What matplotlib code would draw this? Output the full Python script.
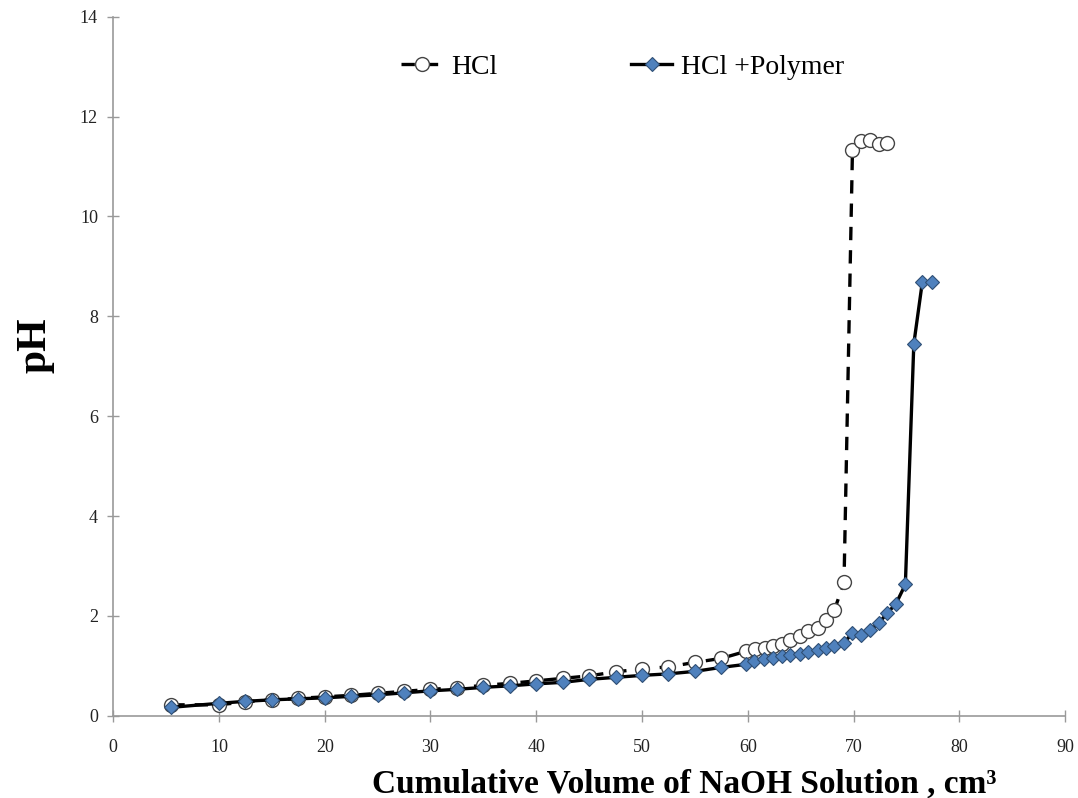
import matplotlib
matplotlib.use('Agg')
import matplotlib.pyplot as plt

# HCl alone (open circles, dashed line)
hcl_vol = [5.5, 10, 12.5, 15, 17.5, 20, 22.5, 25, 27.5, 30, 32.5, 35, 37.5, 40,
           42.5, 45, 47.5, 50, 52.5, 55, 57.5, 59.8, 60.7, 61.6, 62.4, 63.2,
           64.0, 64.9, 65.7, 66.6, 67.4, 68.2, 69.1, 69.9, 70.7, 71.6, 72.4, 73.2]
hcl_ph = [0.22, 0.22, 0.28, 0.32, 0.35, 0.38, 0.41, 0.45, 0.49, 0.53, 0.56, 0.61,
          0.65, 0.70, 0.75, 0.80, 0.88, 0.94, 0.98, 1.07, 1.15, 1.29, 1.33, 1.36,
          1.39, 1.44, 1.52, 1.60, 1.69, 1.76, 1.92, 2.12, 2.68, 11.34, 11.51,
          11.53, 11.46, 11.47]

# HCl + polymer (blue diamonds, solid line)
poly_vol = [5.5, 10, 12.5, 15, 17.5, 20, 22.5, 25, 27.5, 30, 32.5, 35, 37.5, 40,
            42.5, 45, 47.5, 50, 52.5, 55, 57.5, 59.8, 60.6, 61.5, 62.4, 63.2,
            64.0, 64.9, 65.7, 66.6, 67.4, 68.2, 69.1, 69.9, 70.7, 71.6, 72.4,
            73.2, 74.0, 74.9, 75.7, 76.5, 77.4]
poly_ph = [0.17, 0.25, 0.29, 0.32, 0.34, 0.36, 0.39, 0.42, 0.46, 0.50, 0.53, 0.57,
           0.60, 0.64, 0.67, 0.73, 0.77, 0.81, 0.84, 0.89, 0.97, 1.03, 1.09, 1.13,
           1.16, 1.19, 1.21, 1.23, 1.27, 1.32, 1.35, 1.39, 1.46, 1.66, 1.62, 1.72,
           1.86, 2.06, 2.24, 2.63, 7.45, 8.68, 8.68]

fig = plt.figure(figsize=(10.78, 7.98), dpi=100)
ax = fig.add_axes([0.105, 0.103, 0.883, 0.876])

ax.plot(hcl_vol, hcl_ph, color='black', lw=2.4, ls=(0, (4, 3)),
        marker='o', ms=10, mfc='white', mec='#444444', mew=1.0, label='HCl')
ax.plot(poly_vol, poly_ph, color='black', lw=2.4, ls='-',
        marker='D', ms=7, mfc='#4F81BD', mec='#2f4f75', mew=0.8,
        label='HCl +Polymer')

ax.set_xlim(0, 90)
ax.set_ylim(0, 14)
ax.set_xticks(range(0, 91, 10))
ax.set_yticks(range(0, 15, 2))

for s in ['top', 'right']:
    ax.spines[s].set_visible(False)
for s in ['left', 'bottom']:
    ax.spines[s].set_color('#999999')
    ax.spines[s].set_linewidth(1.2)
ax.tick_params(direction='inout', length=8, color='#999999', width=1,
               labelsize=13, labelcolor='#222222')
ax.tick_params(axis='x', pad=13)
ax.tick_params(axis='y', pad=7)
for lab in ax.get_xticklabels() + ax.get_yticklabels():
    lab.set_fontfamily('Liberation Serif')

ax.set_xlabel('Cumulative Volume of NaOH Solution , cm³',
              fontfamily='Liberation Serif', fontweight='bold', fontsize=24)
ax.xaxis.set_label_coords(0.6, -0.076)
ax.set_ylabel('pH', fontfamily='Liberation Serif', fontweight='bold',
              fontsize=30)
ax.yaxis.set_label_coords(-0.062, 0.53)

leg = ax.legend(loc='center', bbox_to_anchor=(0.535, 0.928), ncol=2,
                frameon=False, columnspacing=4.8, handlelength=1.5,
                handletextpad=0.3,
                prop={'family': 'Liberation Serif', 'size': 20})

fig.savefig('out.png', dpi=100)
